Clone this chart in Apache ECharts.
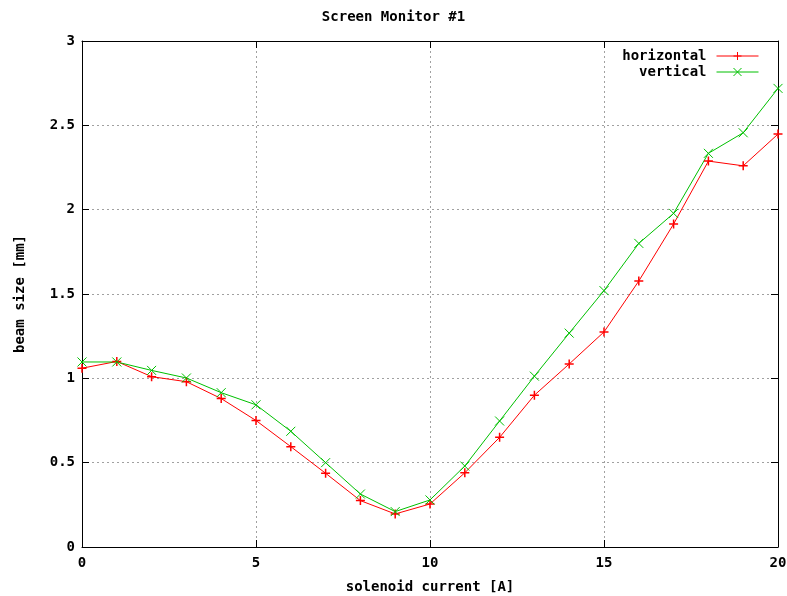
<!DOCTYPE html>
<html>
<head>
<meta charset="utf-8">
<script src="https://cdn.jsdelivr.net/npm/echarts@6/dist/echarts.min.js"></script>
<style>
  html, body { margin: 0; padding: 0; background: #fff; }
  #chart { width: 787px; height: 596px; }
</style>
</head>
<body>
<div id="chart"></div>
<script>
// solenoid current [A]
const current = [0, 1, 2, 3, 4, 5, 6, 7, 8, 9, 10, 11, 12, 13, 14, 15, 16, 17, 18, 19, 20]
// beam size [mm]
const horizontal = [1.06, 1.10, 1.01, 0.98, 0.88, 0.75, 0.595, 0.437, 0.275, 0.196, 0.255,
  0.44, 0.65, 0.90, 1.085, 1.275, 1.577, 1.915, 2.288, 2.26, 2.448]
const vertical = [1.097, 1.097, 1.047, 1.002, 0.915, 0.843, 0.686, 0.50, 0.314, 0.21, 0.279,
  0.48, 0.747, 1.013, 1.268, 1.52, 1.80, 1.978, 2.334, 2.456, 2.719]

const font = 'DejaVu Sans Mono'
const plusPath = 'path://M5,0L5,10M0,5L10,5'
const crossPath = 'path://M0,0L10,10M10,0L0,10'

const chart = echarts.init(document.getElementById('chart'))

const axisCommon = {
  axisLine: { show: true, onZero: false, lineStyle: { color: '#000', width: 1 } },
  axisTick: { show: true, inside: true, length: 7, lineStyle: { color: '#000' } },
  splitLine: { show: false }
}

chart.setOption({
  animation: false,
  backgroundColor: '#fff',
  textStyle: { fontFamily: font, fontWeight: 'bold', color: '#000' },
  title: {
    text: 'Screen Monitor #1',
    left: 'center',
    top: 5,
    textStyle: { fontFamily: font, fontWeight: 'bold', fontSize: 14, color: '#000' }
  },
  legend: {
    orient: 'vertical',
    align: 'right',
    right: 23,
    top: 44,
    itemGap: 2,
    itemWidth: 42,
    itemHeight: 10,
    lineStyle: { width: 1 },
    itemStyle: { borderWidth: 1 },
    textStyle: { fontFamily: font, fontWeight: 'bold', fontSize: 14, color: '#000', padding: [0, 5, 0, 0] },
    data: ['horizontal', 'vertical']
  },
  grid: { left: 82, right: 9, top: 41, bottom: 49, outerBoundsMode: 'none', containLabel: false },
  xAxis: [
    Object.assign({}, axisCommon, {
      type: 'value', min: 0, max: 20, interval: 5, position: 'bottom',
      name: 'solenoid current [A]', nameLocation: 'middle', nameGap: 33,
      nameTextStyle: { fontFamily: font, fontWeight: 'bold', fontSize: 14, color: '#000' },
      axisLabel: { fontFamily: font, fontWeight: 'bold', fontSize: 14, color: '#000', margin: 9 },
      splitLine: { show: true, lineStyle: { color: '#a0a0a0', type: [2, 3] } }
    }),
    Object.assign({}, axisCommon, {
      type: 'value', min: 0, max: 20, interval: 5, position: 'top',
      axisLabel: { show: false }
    })
  ],
  yAxis: [
    Object.assign({}, axisCommon, {
      type: 'value', min: 0, max: 3, interval: 0.5, position: 'left',
      name: 'beam size [mm]', nameLocation: 'middle', nameGap: 55, nameRotate: 90,
      nameTextStyle: { fontFamily: font, fontWeight: 'bold', fontSize: 14, color: '#000' },
      axisLabel: { fontFamily: font, fontWeight: 'bold', fontSize: 14, color: '#000', margin: 7 },
      splitLine: { show: true, lineStyle: { color: '#a0a0a0', type: [2, 3] } }
    }),
    Object.assign({}, axisCommon, {
      type: 'value', min: 0, max: 3, interval: 0.5, position: 'right',
      axisLabel: { show: false }
    })
  ],
  series: [
    {
      name: 'horizontal',
      type: 'line',
      data: current.map((x, i) => [x, horizontal[i]]),
      symbol: plusPath,
      symbolSize: 9,
      showAllSymbol: true,
      itemStyle: { color: '#ff0000', borderColor: '#ff0000', borderWidth: 1.5 },
      lineStyle: { color: '#ff0000', width: 1 },
      emphasis: { disabled: true }
    },
    {
      name: 'vertical',
      type: 'line',
      data: current.map((x, i) => [x, vertical[i]]),
      symbol: crossPath,
      symbolSize: 9,
      showAllSymbol: true,
      itemStyle: { color: '#00c000', borderColor: '#00c000', borderWidth: 1 },
      lineStyle: { color: '#00c000', width: 1 },
      emphasis: { disabled: true }
    }
  ]
})
</script>
</body>
</html>
